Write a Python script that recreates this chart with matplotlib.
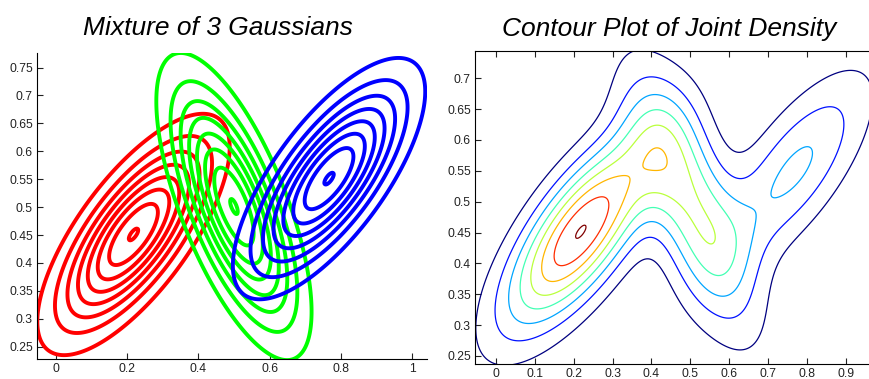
import numpy as np
import matplotlib.pyplot as plt

# mixture parameters
means = [[0.218, 0.451], [0.500, 0.501], [0.767, 0.551]]
covs = [[[0.01753, 0.01012], [0.01012, 0.01123]],
        [[0.01142, -0.00986], [-0.00986, 0.01818]],
        [[0.01753, 0.01012], [0.01012, 0.01123]]]
weights = [0.5, 0.325, 0.2]
comp_colors = ['#ff0000', '#00ff00', '#0000ff']
# contour levels as fractions of the peak
level_frac = [1 / 8, 2 / 8, 3 / 8, 4 / 8, 5 / 8, 6 / 8, 7 / 8, 0.995]

left_xticks = [0, 0.2, 0.4, 0.6, 0.8, 1]
left_yticks = [0.25, 0.3, 0.35, 0.4, 0.45, 0.5, 0.55, 0.6, 0.65, 0.7, 0.75]
right_xticks = [0, 0.1, 0.2, 0.3, 0.4, 0.5, 0.6, 0.7, 0.8, 0.9]
right_yticks = [0.25, 0.3, 0.35, 0.4, 0.45, 0.5, 0.55, 0.6, 0.65, 0.7]


def gauss(X, Y, m, S):
    S = np.array(S)
    Si = np.linalg.inv(S)
    dx = X - m[0]
    dy = Y - m[1]
    q = Si[0, 0] * dx * dx + 2 * Si[0, 1] * dx * dy + Si[1, 1] * dy * dy
    return np.exp(-0.5 * q) / (2 * np.pi * np.sqrt(np.linalg.det(S)))


plt.rcParams['font.family'] = 'Liberation Sans'
fig = plt.figure(figsize=(8.7, 3.79), dpi=100)

xg = np.linspace(-0.15, 1.15, 500)
yg = np.linspace(0.15, 0.85, 400)
X, Y = np.meshgrid(xg, yg)

# left: each component
ax1 = fig.add_axes([0.0425, 0.0528, 0.4483, 0.8074])
for m, S, c in zip(means, covs, comp_colors):
    Z = gauss(X, Y, m, S)
    lev = [f * Z.max() for f in level_frac]
    ax1.contour(X, Y, Z, levels=lev, colors=c, linewidths=2.8)
ax1.set_xlim(-0.053, 1.042)
ax1.set_ylim(0.228, 0.776)
ax1.set_xticks(left_xticks)
ax1.set_xticklabels(['0', '0.2', '0.4', '0.6', '0.8', '1'])
ax1.set_yticks(left_yticks)
ax1.set_yticklabels(['%g' % v for v in left_yticks])
ax1.spines['top'].set_visible(False)
ax1.spines['right'].set_visible(False)
ax1.tick_params(direction='in', length=4, labelsize=8.7, colors='#222222', pad=3)
ax1.set_title('Mixture of 3 Gaussians', fontsize=19, style='italic',
              pad=13, x=0.464)

# right: joint density
ax2 = fig.add_axes([0.546, 0.0396, 0.4707, 0.8258])
P = sum(w * gauss(X, Y, m, S) for w, m, S in zip(weights, means, covs))
lev = [f * P.max() for f in level_frac]
ax2.contour(X, Y, P, levels=lev, cmap='jet', linewidths=0.9)
ax2.set_xlim(-0.054, 1.0)
ax2.set_ylim(0.237, 0.744)
ax2.set_xticks(right_xticks)
ax2.set_xticklabels(['%g' % v for v in right_xticks])
ax2.set_yticks(right_yticks)
ax2.set_yticklabels(['%g' % v for v in right_yticks])
ax2.tick_params(direction='in', length=4, labelsize=8.7, colors='#222222',
                top=True, right=True, pad=3)
ax2.set_title('Contour Plot of Joint Density', fontsize=19, style='italic',
              pad=11, x=0.475)

fig.savefig('out.png', dpi=100)
